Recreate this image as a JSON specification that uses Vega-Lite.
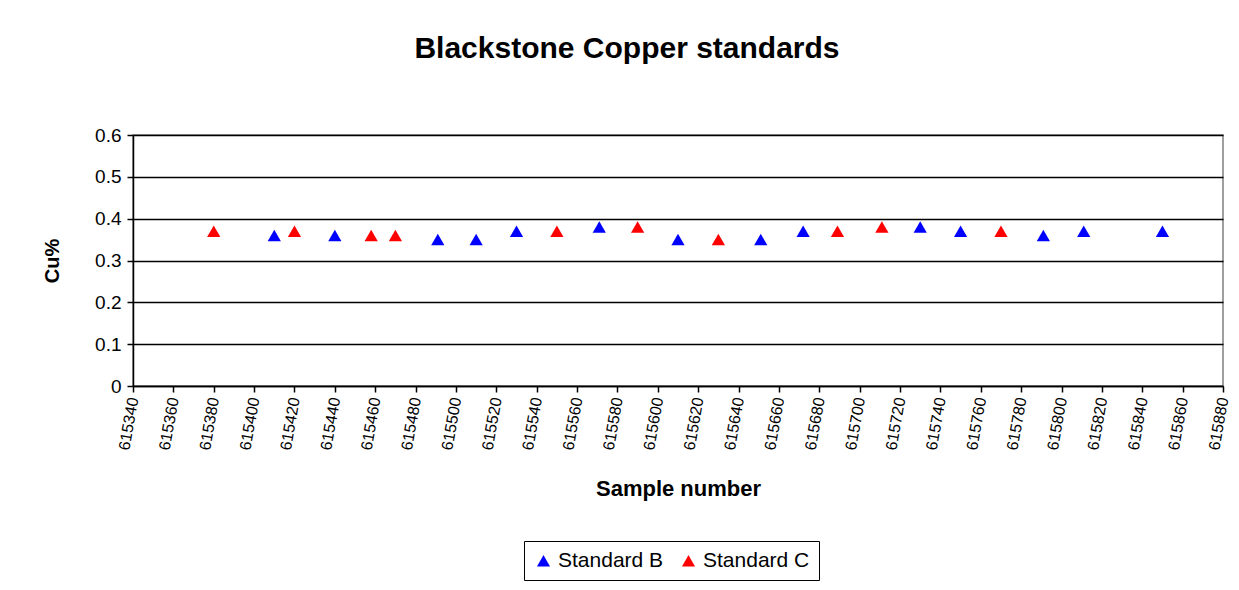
{
  "$schema": "https://vega.github.io/schema/vega-lite/v6.json",
  "autosize": {"type": "none"},
  "width": 1090,
  "height": 251,
  "padding": {"left": 133, "top": 135, "right": 16, "bottom": 204},
  "background": "white",
  "title": {
    "text": "Blackstone Copper standards",
    "font": "Liberation Sans",
    "fontSize": 30,
    "fontWeight": "bold",
    "color": "black",
    "anchor": "middle",
    "dx": -51,
    "offset": 62
  },
  "data": {
    "values": [
      {"sample": 615380, "cu": 0.37, "standard": "Standard C"},
      {"sample": 615410, "cu": 0.36, "standard": "Standard B"},
      {"sample": 615420, "cu": 0.37, "standard": "Standard C"},
      {"sample": 615440, "cu": 0.36, "standard": "Standard B"},
      {"sample": 615458, "cu": 0.36, "standard": "Standard C"},
      {"sample": 615470, "cu": 0.36, "standard": "Standard C"},
      {"sample": 615491, "cu": 0.35, "standard": "Standard B"},
      {"sample": 615510, "cu": 0.35, "standard": "Standard B"},
      {"sample": 615530, "cu": 0.37, "standard": "Standard B"},
      {"sample": 615550, "cu": 0.37, "standard": "Standard C"},
      {"sample": 615571, "cu": 0.38, "standard": "Standard B"},
      {"sample": 615590, "cu": 0.38, "standard": "Standard C"},
      {"sample": 615610, "cu": 0.35, "standard": "Standard B"},
      {"sample": 615630, "cu": 0.35, "standard": "Standard C"},
      {"sample": 615651, "cu": 0.35, "standard": "Standard B"},
      {"sample": 615672, "cu": 0.37, "standard": "Standard B"},
      {"sample": 615689, "cu": 0.37, "standard": "Standard C"},
      {"sample": 615711, "cu": 0.38, "standard": "Standard C"},
      {"sample": 615730, "cu": 0.38, "standard": "Standard B"},
      {"sample": 615750, "cu": 0.37, "standard": "Standard B"},
      {"sample": 615770, "cu": 0.37, "standard": "Standard C"},
      {"sample": 615791, "cu": 0.36, "standard": "Standard B"},
      {"sample": 615811, "cu": 0.37, "standard": "Standard B"},
      {"sample": 615850, "cu": 0.37, "standard": "Standard B"}
    ]
  },
  "mark": {"type": "point", "shape": "triangle-up", "filled": true, "size": 175, "opacity": 1},
  "encoding": {
    "x": {
      "field": "sample",
      "type": "quantitative",
      "scale": {"domain": [615340, 615880], "nice": false, "zero": false},
      "axis": {
        "title": "Sample number",
        "values": [615340, 615360, 615380, 615400, 615420, 615440, 615460, 615480, 615500, 615520, 615540, 615560, 615580, 615600, 615620, 615640, 615660, 615680, 615700, 615720, 615740, 615760, 615780, 615800, 615820, 615840, 615860, 615880],
        "format": "d",
        "grid": false,
        "labelAngle": -80,
        "labelAlign": "right",
        "labelBaseline": "middle",
        "labelFontSize": 16,
        "labelPadding": 5,
        "titleFontSize": 22,
        "titlePadding": 28
      }
    },
    "y": {
      "field": "cu",
      "type": "quantitative",
      "scale": {"domain": [0, 0.6], "nice": false},
      "axis": {
        "title": "Cu%",
        "values": [0, 0.1, 0.2, 0.3, 0.4, 0.5, 0.6],
        "format": ".1~f",
        "grid": true,
        "gridColor": "black",
        "gridWidth": 1.5,
        "labelFontSize": 19,
        "labelPadding": 6,
        "titleFontSize": 20,
        "titlePadding": 32
      }
    },
    "color": {
      "field": "standard",
      "type": "nominal",
      "scale": {"domain": ["Standard B", "Standard C"], "range": ["#0000FF", "#FF0000"]},
      "legend": {
        "title": null,
        "orient": "none",
        "legendX": 391,
        "legendY": 406,
        "direction": "horizontal",
        "strokeColor": "black",
        "fillColor": "white",
        "padding": 9,
        "symbolType": "triangle-up",
        "symbolSize": 170,
        "symbolStrokeWidth": 0,
        "labelFontSize": 21,
        "labelFont": "Liberation Sans",
        "labelColor": "black",
        "columnPadding": 14
      }
    }
  },
  "config": {
    "font": "Liberation Sans",
    "view": {"stroke": "#808080", "strokeWidth": 1.5},
    "axis": {
      "domainColor": "black",
      "domainWidth": 1.5,
      "tickColor": "black",
      "tickWidth": 1.5,
      "tickSize": 6,
      "labelColor": "black",
      "labelFont": "Liberation Sans",
      "titleColor": "black",
      "titleFont": "Liberation Sans",
      "titleFontWeight": "bold"
    }
  }
}
